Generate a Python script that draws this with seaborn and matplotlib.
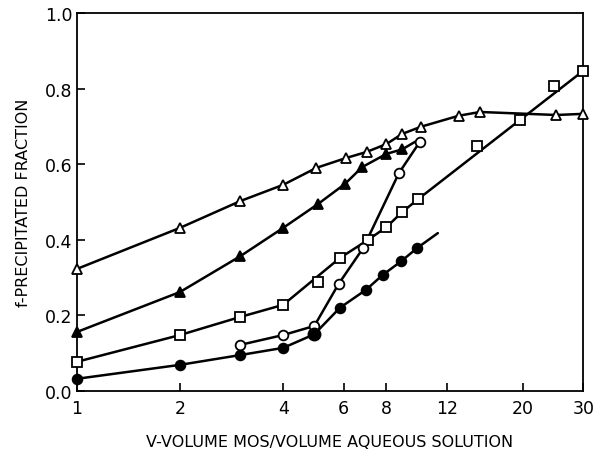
import numpy as np
import pandas as pd
import matplotlib
matplotlib.use("Agg")
import matplotlib.pyplot as plt
import seaborn as sns

# values (x is on a log scale)
tri_open_x = [1, 2, 3, 4, 5, 6.1, 7, 8, 8.9, 10.1, 13, 15, 25, 30]
tri_open_y = [0.323, 0.432, 0.503, 0.546, 0.591, 0.617, 0.633, 0.654, 0.681, 0.700, 0.729, 0.739, 0.731, 0.734]

tri_fill_x = [1, 2, 3, 4, 5.05, 6.05, 6.8, 8, 8.9]
tri_fill_y = [0.156, 0.262, 0.357, 0.432, 0.495, 0.548, 0.593, 0.628, 0.640]
tri_fill_line_x = [1, 2, 3, 4, 5.05, 6.05, 6.8, 8, 8.9, 9.7]   # fitted line runs past last point
tri_fill_line_y = [0.156, 0.262, 0.357, 0.432, 0.495, 0.548, 0.593, 0.628, 0.640, 0.660]

sq_x = [1, 2, 3, 4, 5.05, 5.85, 7.07, 8, 8.9, 9.9, 14.7, 19.6, 24.6, 30]
sq_y = [0.077, 0.148, 0.196, 0.228, 0.289, 0.352, 0.400, 0.434, 0.474, 0.508, 0.649, 0.718, 0.808, 0.848]
sq_line_x = [1, 2, 3, 4, 5.85, 7.07, 8, 8.9, 9.9, 30]   # drawn line (straight above ~10)
sq_line_y = [0.077, 0.148, 0.196, 0.228, 0.352, 0.400, 0.434, 0.474, 0.508, 0.848]

circ_open_x = [3, 4, 4.93, 5.8, 6.85, 8.7, 10]
circ_open_y = [0.122, 0.148, 0.172, 0.283, 0.379, 0.577, 0.659]

circ_fill_x = [1, 2, 3, 4, 4.93, 5.85, 6.98, 7.8, 8.85, 9.85]
circ_fill_y = [0.032, 0.069, 0.095, 0.114, 0.150, 0.220, 0.268, 0.307, 0.344, 0.379]
circ_fill_line_x = [1, 2, 3, 4, 4.93, 5.85, 6.98, 7.8, 8.85, 9.85, 11.3]
circ_fill_line_y = [0.032, 0.069, 0.095, 0.114, 0.150, 0.220, 0.268, 0.307, 0.344, 0.379, 0.418]

x_ticks = [1, 2, 4, 6, 8, 12, 20, 30]
y_ticks = [0.0, 0.2, 0.4, 0.6, 0.8, 1.0]

sns.set_style("ticks", {"axes.edgecolor": "black", "text.color": "black",
                        "xtick.color": "black", "ytick.color": "black",
                        "axes.labelcolor": "black"})
plt.rcParams['font.family'] = ['DejaVu Sans']

fig = plt.figure(figsize=(6, 4.52), dpi=100)
ax = fig.add_axes([0.128, 0.133, 0.844, 0.835])

# lines first
lines = [
    (tri_open_x, tri_open_y),
    (tri_fill_line_x, tri_fill_line_y),
    (sq_line_x, sq_line_y),
    (circ_open_x, circ_open_y),
    (circ_fill_line_x, circ_fill_line_y),
]
for xs, ys in lines:
    sns.lineplot(x=xs, y=ys, ax=ax, color='black', linewidth=1.8, sort=False,
                 estimator=None, zorder=2)

# then the symbols
markers = [
    (tri_open_x, tri_open_y, '^', 'white', 7.5),
    (tri_fill_x, tri_fill_y, '^', 'black', 7.5),
    (sq_x, sq_y, 's', 'white', 6.5),
    (circ_open_x, circ_open_y, 'o', 'white', 7),
    (circ_fill_x, circ_fill_y, 'o', 'black', 7),
]
for xs, ys, mk, fc, ms in markers:
    df = pd.DataFrame({'x': xs, 'y': ys})
    sns.lineplot(data=df, x='x', y='y', ax=ax, color='black', linestyle='',
                 marker=mk, markersize=ms, markerfacecolor=fc, estimator=None,
                 markeredgecolor='black', markeredgewidth=1.3, sort=False,
                 zorder=3, clip_on=False)

# big filled circle at x=5
ax.plot([circ_fill_x[4]], [circ_fill_y[4]], 'o', color='black', markersize=9, zorder=4)

for ln in ax.lines:
    ln.set_clip_on(False)

ax.set_xscale('log')
ax.set_xlim(1, 30)
ax.set_ylim(0, 1.0)
ax.set_xticks(x_ticks)
ax.set_xticklabels([str(t) for t in x_ticks])
ax.xaxis.set_minor_locator(matplotlib.ticker.NullLocator())
ax.set_yticks(y_ticks)
ax.set_yticklabels([f"{t:.1f}" for t in y_ticks])
ax.tick_params(direction='in', length=6, width=1.2, labelsize=12.5, pad=6,
               colors='black')
ax.tick_params(axis='y', pad=3)
for s in ax.spines.values():
    s.set_linewidth(1.3)
    s.set_color('black')
    s.set_visible(True)

ax.set_xlabel("V-VOLUME MOS/VOLUME AQUEOUS SOLUTION", fontsize=11.5, labelpad=12, color='black')
ax.set_ylabel("f-PRECIPITATED FRACTION", fontsize=11.5, labelpad=10, color='black')

fig.savefig("out.png", dpi=100)
